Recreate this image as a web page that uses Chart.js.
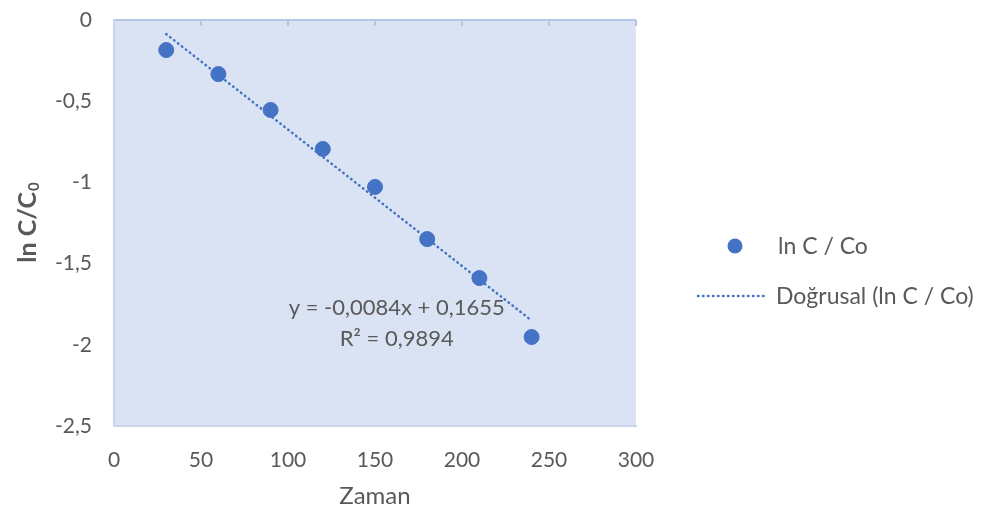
<!DOCTYPE html>
<html>
<head>
<meta charset="utf-8">
<script src="https://cdn.jsdelivr.net/npm/chart.js@4/dist/chart.umd.min.js"></script>
<style>
    html, body { margin: 0; padding: 0; background: #ffffff; }
    #wrap { width: 982px; height: 516px; }
</style>
</head>
<body>
<div id="wrap"><canvas id="chart_lnc"></canvas></div>
<script>
    // values
    const zaman = [30, 60, 90, 120, 150, 180, 210, 240];
    const lnC = [-0.185, -0.333, -0.554, -0.794, -1.028, -1.349, -1.589, -1.952];

    // Excel linear trendline (y = -0,0084x + 0,1655), drawn between its end points
    const trendX = [30, 240];
    const trendY = [-0.0865, -1.8505];

    const xTicks = [0, 50, 100, 150, 200, 250, 300];
    const yTicks = [0, -0.5, -1, -1.5, -2, -2.5];

    const equationLines = ['y = -0,0084x + 0,1655', 'R² = 0,9894'];
    const legendLabels = ['ln C / Co', 'Doğrusal (ln C / Co)'];

    const blue = '#4472c4';
    const textGrey = '#595959';
    const fontFamily = 'Lato, "Open Sans", sans-serif';

    const fmt = (v) => String(v).replace('.', ',');

    const plotDecor = {
        id: 'plotDecor',
        beforeDraw(chart) {
            const {ctx, chartArea: a, scales} = chart;
            ctx.save();
            ctx.fillStyle = '#dae3f3';
            ctx.fillRect(a.left, a.top, a.right - a.left, a.bottom - a.top);
            // horizontal axis crosses at y = 0 (top edge)
            const y0 = scales.y.getPixelForValue(0);
            ctx.strokeStyle = '#b4c7e7';
            ctx.lineWidth = 2;
            ctx.beginPath();
            ctx.moveTo(a.left, y0);
            ctx.lineTo(a.right, y0);
            xTicks.forEach((t) => {
                const px = scales.x.getPixelForValue(t);
                ctx.moveTo(px, y0);
                ctx.lineTo(px, y0 + 6);
            });
            ctx.stroke();
            ctx.restore();
        },
        afterDraw(chart) {
            const {ctx, chartArea: a, scales} = chart;
            ctx.save();

            // y axis title with subscript
            ctx.translate(28, (a.top + a.bottom) / 2);
            ctx.rotate(-Math.PI / 2);
            ctx.fillStyle = textGrey;
            ctx.textBaseline = 'middle';
            const main = 'ln C/C';
            ctx.font = 'bold 25px ' + fontFamily;
            const wMain = ctx.measureText(main).width;
            ctx.font = 'bold 15px ' + fontFamily;
            const wSub = ctx.measureText('0').width;
            const start = -(wMain + wSub) / 2;
            ctx.font = 'bold 25px ' + fontFamily;
            ctx.textAlign = 'left';
            ctx.fillText(main, start, 0);
            ctx.font = 'bold 15px ' + fontFamily;
            ctx.fillText('0', start + wMain + 1, 6);
            ctx.setTransform(1, 0, 0, 1, 0, 0);

            // trendline equation
            ctx.font = '22px ' + fontFamily;
            ctx.textAlign = 'center';
            ctx.textBaseline = 'middle';
            const ex = scales.x.getPixelForValue(162.5);
            ctx.fillText(equationLines[0], ex, scales.y.getPixelForValue(-1.773));
            ctx.fillText(equationLines[1], ex, scales.y.getPixelForValue(-1.964));

            // legend
            ctx.font = '23px ' + fontFamily;
            ctx.textAlign = 'left';
            ctx.fillStyle = blue;
            ctx.beginPath();
            ctx.arc(735, 246, 7.5, 0, Math.PI * 2);
            ctx.fill();
            ctx.strokeStyle = blue;
            ctx.lineWidth = 2.5;
            ctx.lineCap = 'round';
            ctx.setLineDash([0.5, 4.5]);
            ctx.beginPath();
            ctx.moveTo(698, 296);
            ctx.lineTo(765, 296);
            ctx.stroke();
            ctx.setLineDash([]);
            ctx.fillStyle = textGrey;
            ctx.fillText(legendLabels[0], 778, 247);
            ctx.fillText(legendLabels[1], 776, 297);
            ctx.restore();
        }
    };

    (function(){
        const ctx = document.getElementById('chart_lnc').getContext('2d');
        const myChart = new Chart(ctx, {
            type: 'scatter',
            data: {
                datasets: [{
                    label: legendLabels[0],
                    data: zaman.map((x, i) => ({x: x, y: lnC[i]})),
                    backgroundColor: blue,
                    borderColor: blue,
                    pointRadius: 7.5,
                    pointHoverRadius: 7.5,
                    order: 1
                }, {
                    label: legendLabels[1],
                    type: 'line',
                    data: trendX.map((x, i) => ({x: x, y: trendY[i]})),
                    borderColor: blue,
                    borderWidth: 2.5,
                    borderDash: [0.5, 4.5],
                    borderCapStyle: 'round',
                    pointRadius: 0,
                    fill: false,
                    order: 2
                }]
            },
            options: {
                responsive: true,
                maintainAspectRatio: false,
                animation: false,
                layout: {
                    padding: {left: 0, top: 20, right: 346, bottom: 0}
                },
                plugins: {
                    legend: {display: false},
                    tooltip: {enabled: false}
                },
                scales: {
                    x: {
                        type: 'linear',
                        min: 0,
                        max: 300,
                        afterBuildTicks: (scale) => { scale.ticks = xTicks.map((v) => ({value: v})); },
                        afterFit: (scale) => { scale.height = 90; },
                        grid: {display: false, drawTicks: false},
                        border: {display: true, color: '#c9d6ee', width: 2},
                        ticks: {
                            padding: 22,
                            color: textGrey,
                            font: {family: fontFamily, size: 21},
                            maxRotation: 0
                        },
                        title: {
                            display: true,
                            text: 'Zaman',
                            color: textGrey,
                            font: {family: fontFamily, size: 24},
                            padding: {top: 0, bottom: 5}
                        }
                    },
                    y: {
                        min: -2.5,
                        max: 0,
                        afterBuildTicks: (scale) => { scale.ticks = yTicks.map((v) => ({value: v})); },
                        afterFit: (scale) => {
                            scale.width = 114;
                            scale.paddingTop = 0;
                            scale.paddingBottom = 0;
                        },
                        grid: {display: false, drawTicks: false},
                        border: {display: true, color: '#c9d6ee', width: 2},
                        ticks: {
                            padding: 22,
                            color: textGrey,
                            font: {family: fontFamily, size: 21},
                            callback: (value) => fmt(value)
                        }
                    }
                }
            },
            plugins: [plotDecor]
        });
    })();
</script>
</body>
</html>
